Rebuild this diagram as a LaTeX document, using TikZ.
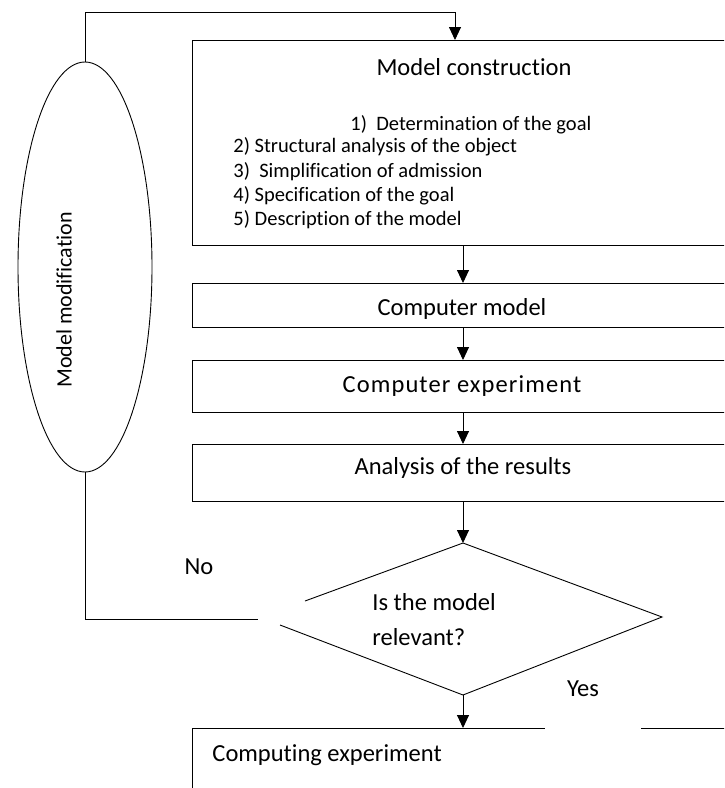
\documentclass[tikz,border=0pt]{standalone}
\usepackage{fontspec}
\setmainfont[Ligatures=CommonOff]{Carlito}
\newfontfamily\widefont[LetterSpace=4.5,Ligatures=CommonOff]{Carlito}
\usetikzlibrary{arrows.meta,shapes.geometric}
\begin{document}
\begin{tikzpicture}[x=1pt,y=-1pt, line width=0.9pt,
 arr/.style={-{Triangle[length=13pt,width=12pt]}},
 box/.style={draw, rectangle, inner sep=0pt, anchor=north west, minimum width=560pt},
 lbl/.style={font=\fontsize{24.5}{28}\selectfont, inner sep=0pt},
 item/.style={font=\fontsize{20.5}{24}\selectfont, inner sep=0pt, anchor=west}]
\useasboundingbox (0,0) rectangle (724,788);
\clip (0,0) rectangle (724,788);
% boxes
\node[box, minimum height=205pt] (b1) at (192,40) {};
\node[box, minimum height=44pt] (b2) at (192,283) {};
\node[box, minimum height=52pt] (b3) at (192,360) {};
\node[box, minimum height=57pt] (b4) at (192,444) {};
% box texts
\node[lbl] (t1) at (474,67) {Model construction};
\node[item] (i1) at (350,125) {1)\ \ Determination of the goal};
\node[item] (i2) at (233,147) {2) Structural analysis of the object};
\node[item] (i3) at (233,172) {3)\ \ Simplification of admission};
\node[item] (i4) at (233,196) {4) Specification of the goal};
\node[item] (i5) at (233,220) {5) Description of the model};
\node[lbl] (t2) at (462,309) {Computer model};
\node[lbl, font=\widefont\fontsize{24.5}{28}\selectfont] (t3) at (462,386) {Computer experiment};
\node[lbl] (t4) at (463,468) {Analysis of the results};
% ellipse
\node[draw, ellipse, minimum width=134pt, minimum height=410pt, inner sep=0pt] (ell) at (85,267) {};
\node[lbl, rotate=90, font=\fontsize{22}{26}\selectfont] (mm) at (64,300) {Model modification};
% diamond
\coordinate (dtop) at (463,543);
\coordinate (dright) at (662,617);
\coordinate (dbot) at (463,695);
\coordinate (dul) at (305,601);
\coordinate (dll) at (280,625);
\draw (dul) -- (dtop) -- (dright) -- (dbot) -- (dll);
\node[lbl, anchor=west] (q1) at (372,602) {Is the model};
\node[lbl, anchor=west] (q2) at (372,637) {relevant?};
\node[lbl] (no) at (199,567) {No};
\node[lbl] (yes) at (583,689) {Yes};
% bottom box
\coordinate (b5a) at (192,800);
\coordinate (b5b) at (192,728);
\coordinate (b5c) at (545,728);
\coordinate (b5d) at (641,728);
\coordinate (b5e) at (740,728);
\draw (b5a) -- (b5b) -- (b5c);
\draw (b5d) -- (b5e);
\node[lbl, anchor=west] (t5) at (212,755) {Computing experiment};
% arrows
\draw[arr] (b1.south -| dtop) -- (b2.north -| dtop);
\draw[arr] (b2.south -| dtop) -- (b3.north -| dtop);
\draw[arr] (b3.south -| dtop) -- (b4.north -| dtop);
\draw[arr] (b4.south -| dtop) -- (dtop);
\draw[arr] (dbot) -- (b5b -| dbot);
% loop
\coordinate (tl) at (85,12);
\coordinate (tin) at (455,40);
\coordinate (nol) at (85,619);
\coordinate (noe) at (258,619);
\draw (ell.south) -- (nol) -- (noe);
\draw[arr] (ell.north) -- (tl) -| (tin);
\end{tikzpicture}
\end{document}
